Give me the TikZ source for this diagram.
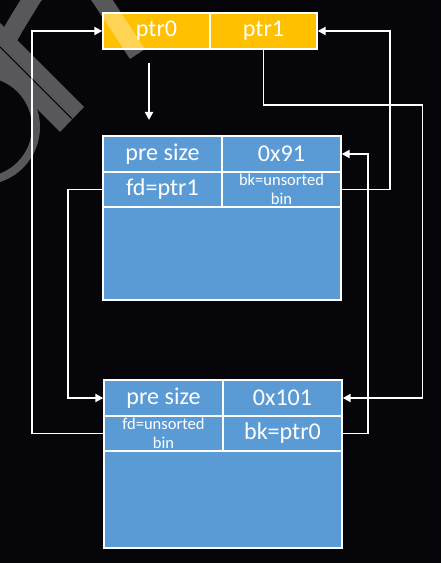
\documentclass[tikz,border=0pt]{standalone}
\usepackage{fontspec}
\setmainfont{Carlito}
\usetikzlibrary{arrows.meta}
\definecolor{ptryellow}{RGB}{255,192,0}
\definecolor{chunkblue}{RGB}{91,155,213}
\definecolor{nightsky}{RGB}{6,6,10}

\begin{document}
\begin{tikzpicture}[x=0.02cm,y=-0.02cm]
   \tikzset{cell/.style = {shape=rectangle,draw=white,line width=0.8pt,text=white,inner sep=0pt,
                           minimum width=2.38cm,minimum height=0.72cm,font=\fontsize{13.7}{16}\selectfont},
            ptrcell/.style = {cell,fill=ptryellow,minimum width=2.14cm},
            blkcell/.style = {cell,fill=chunkblue},
            smalltext/.style = {align=center,font=\fontsize{9.4}{10.8}\selectfont},
            link/.style = {draw=white,line width=1.1pt,-{Triangle[length=1.6mm,width=1.6mm]}}}
   \useasboundingbox (0,0) rectangle (441,563);
   \fill[nightsky] (0,0) rectangle (441,563);

   \node[ptrcell] (ptr0) at (156.5,31) {ptr0};
   \node[ptrcell] (ptr1) at (263.5,31) {ptr1};

   % first chunk
   \node[blkcell] (c1ps) at (162.5,154) {pre size};
   \node[blkcell] (c1sz) at (281.5,154) {0x91};
   \node[blkcell,minimum height=0.70cm] (c1fd) at (162.5,189.5) {fd=ptr1};
   \node[blkcell,minimum height=0.70cm,smalltext] (c1bk) at (281.5,189.5) {bk=unsorted\\bin};
   \node[blkcell,minimum width=4.76cm,minimum height=1.86cm] (c1body) at (222,253.5) {};

   % second chunk
   \node[blkcell] (c2ps) at (163.5,398) {pre size};
   \node[blkcell] (c2sz) at (282.5,398) {0x101};
   \node[blkcell,minimum height=0.70cm,smalltext] (c2fd) at (163.5,433.5) {fd=unsorted\\bin};
   \node[blkcell,minimum height=0.70cm] (c2bk) at (282.5,433.5) {bk=ptr0};
   \node[blkcell,minimum width=4.76cm,minimum height=1.94cm] (c2body) at (223,499.5) {};

   \coordinate (d0) at (149,63);
   \coordinate (d1) at (149,120);

   \draw[link] (d0) -- (d1);
   \draw[link] (c2fd.west) -- ++(-71,0) |- (ptr0.west);
   \draw[link] (c1bk.east) -- ++(48,0) |- (ptr1.east);
   \draw[link] (ptr1.south) -- ++(0,55) -- ++(159,0) |- (c2sz.east);
   \draw[link] (c1fd.west) -- ++(-34,0) |- (c2ps.west);
   \draw[link] (c2bk.east) -- ++(25,0) |- (c1sz.east);

   % watermark
   \begin{scope}[transparency group,opacity=0.33]
     \clip (0,0) rectangle (441,563);
     \fill[white] (0,23) -- (84,107) -- (60,132) -- (0,72) -- cycle;
     \draw[white,line width=0.16cm] (-17.8,127) circle[radius=53.8];
     \draw[white,line width=0.36cm] (137.5,54) -- (100,-3) .. controls (85,-25) and (45,-25) .. (31,0)
          .. controls (22,15) and (12,30) .. (5,45);
     \draw[black,line width=0.6pt] (0,47) -- (72,119);
   \end{scope}
\end{tikzpicture}
\end{document}
